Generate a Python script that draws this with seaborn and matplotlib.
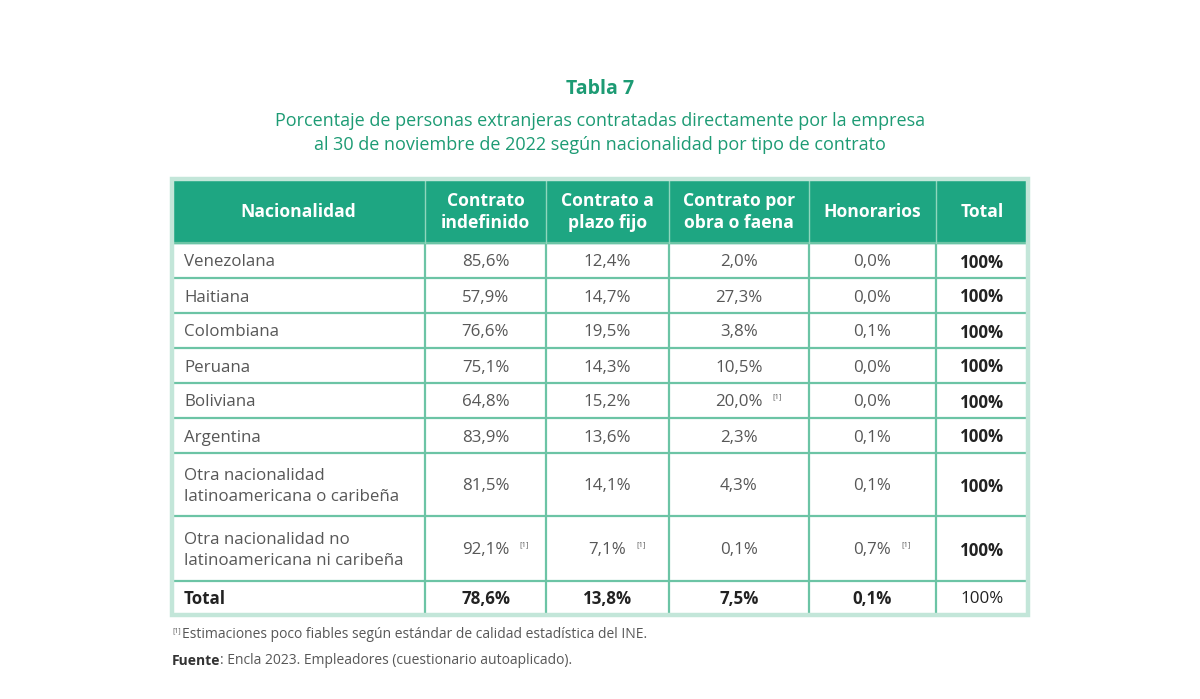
# Tabla 7 - personas extranjeras por tipo de contrato (Encla 2023)
import seaborn as sns
import matplotlib.pyplot as plt
import pandas as pd
from matplotlib.patches import Rectangle

nacionalidad = ["Venezolana", "Haitiana", "Colombiana", "Peruana", "Boliviana", "Argentina",
                "Otra nacionalidad\nlatinoamericana o caribeña",
                "Otra nacionalidad no\nlatinoamericana ni caribeña"]
indefinido = [85.6, 57.9, 76.6, 75.1, 64.8, 83.9, 81.5, 92.1]
plazo_fijo = [12.4, 14.7, 19.5, 14.3, 15.2, 13.6, 14.1, 7.1]
obra_faena = [2.0, 27.3, 3.8, 10.5, 20.0, 2.3, 4.3, 0.1]
honorarios = [0.0, 0.0, 0.1, 0.0, 0.0, 0.1, 0.1, 0.7]
total_fila = ["100%"] * 8
total_col = [78.6, 13.8, 7.5, 0.1]
# [1] = estimacion poco fiable
poco_fiable = {"indefinido": [7], "plazo_fijo": [7], "obra_faena": [4], "honorarios": [7]}

headers = ["Nacionalidad", "Contrato\nindefinido", "Contrato a\nplazo fijo",
           "Contrato por\nobra o faena", "Honorarios", "Total"]

df = pd.DataFrame({"nacionalidad": nacionalidad, "indefinido": indefinido,
                   "plazo_fijo": plazo_fijo, "obra_faena": obra_faena,
                   "honorarios": honorarios, "total": total_fila})

def pct(v):
    return f"{v:.1f}".replace(".", ",") + "%"

sns.set_theme(style="white")
plt.rcParams['font.family'] = ['Open Sans', 'DejaVu Sans']

GREEN = "#1ea682"
TITLE_GREEN = "#1d9b74"
LINE = "#6cc4a5"
TXT = "#575757"
DARK = "#222222"
FS = 12.2

# layout (pixels)
x0, y0 = 172, 179
col_w = [253, 121, 123, 140, 127, 92]
row_h = [64, 35, 35, 35, 35, 35, 35, 63, 65, 34]
xs = [x0]
for w in col_w:
    xs.append(xs[-1] + w)
ys = [y0]
for h in row_h:
    ys.append(ys[-1] + h)

fig = plt.figure(figsize=(12, 6.99), dpi=100)
ax = fig.add_axes([0, 0, 1, 1])
ax.set_xlim(0, 1200)
ax.set_ylim(699, 0)
ax.axis("off")

ax.text(600, 89, "Tabla 7", ha="center", va="center", fontsize=14,
        fontweight="bold", color=TITLE_GREEN)
ax.text(600, 121, "Porcentaje de personas extranjeras contratadas directamente por la empresa",
        ha="center", va="center", fontsize=13, color=TITLE_GREEN)
ax.text(600, 145, "al 30 de noviembre de 2022 según nacionalidad por tipo de contrato",
        ha="center", va="center", fontsize=13, color=TITLE_GREEN)

# header
ax.add_patch(Rectangle((xs[0], ys[0]), xs[-1] - xs[0], row_h[0], color=GREEN, zorder=1))
for j, h in enumerate(headers):
    cx = (xs[j] + xs[j + 1]) / 2
    ax.text(cx, (ys[0] + ys[1]) / 2 + 1, h, ha="center", va="center", fontsize=12.6,
            fontweight="bold", color="white", linespacing=1.3, zorder=3)

cols = ["indefinido", "plazo_fijo", "obra_faena", "honorarios"]
for i, row in df.iterrows():
    cy = (ys[i + 1] + ys[i + 2]) / 2 + 2
    ax.text(xs[0] + 12, cy, row["nacionalidad"], ha="left", va="center", fontsize=FS,
            color=TXT, linespacing=1.4)
    for j, c in enumerate(cols):
        cx = (xs[j + 1] + xs[j + 2]) / 2
        t = ax.text(cx, cy, pct(row[c]), ha="center", va="center", fontsize=FS, color=TXT)
        if i in poco_fiable[c]:
            ax.annotate("[1]", xy=(1, 0.85), xycoords=t, xytext=(7, 0),
                        textcoords="offset points", ha="left", va="center",
                        fontsize=5.5, color=TXT)
    ax.text((xs[5] + xs[6]) / 2, cy, row["total"], ha="center", va="center", fontsize=FS,
            fontweight="bold", color=DARK)

# total row
cy = (ys[-2] + ys[-1]) / 2 + 1
ax.text(xs[0] + 12, cy, "Total", ha="left", va="center", fontsize=FS,
        fontweight="bold", color=DARK)
for j, v in enumerate(total_col):
    ax.text((xs[j + 1] + xs[j + 2]) / 2, cy, pct(v), ha="center", va="center",
            fontsize=FS, fontweight="bold", color=DARK)
ax.text((xs[5] + xs[6]) / 2, cy, "100%", ha="center", va="center", fontsize=FS,
        color=DARK)

# grid lines
for y in ys[1:-1]:
    ax.plot([xs[0], xs[-1]], [y, y], color=LINE, lw=1.6, zorder=2)
for x in xs[1:-1]:
    ax.plot([x, x], [ys[1], ys[-1]], color=LINE, lw=1.6, zorder=2)
    ax.plot([x, x], [ys[0], ys[1]], color="#8fd6bd", lw=1.0, zorder=2)
ax.add_patch(Rectangle((xs[0], ys[0]), xs[-1] - xs[0], ys[-1] - ys[0], fill=False,
                       edgecolor="#c3e6d9", lw=3.2, zorder=4))

# notes
ax.text(172, 631, "[1]", ha="left", va="center", fontsize=5, color=TXT)
ax.text(182, 634, "Estimaciones poco fiables según estándar de calidad estadística del INE.",
        ha="left", va="center", fontsize=10, color=TXT)
t = ax.text(172, 661, "Fuente", ha="left", va="center", fontsize=10,
            fontweight="bold", color="#333333")
ax.annotate(": Encla 2023. Empleadores (cuestionario autoaplicado).", xy=(1, 0.5),
            xycoords=t, ha="left", va="center", fontsize=10, color=TXT)

fig.savefig("out.png", dpi=100, facecolor="white")
